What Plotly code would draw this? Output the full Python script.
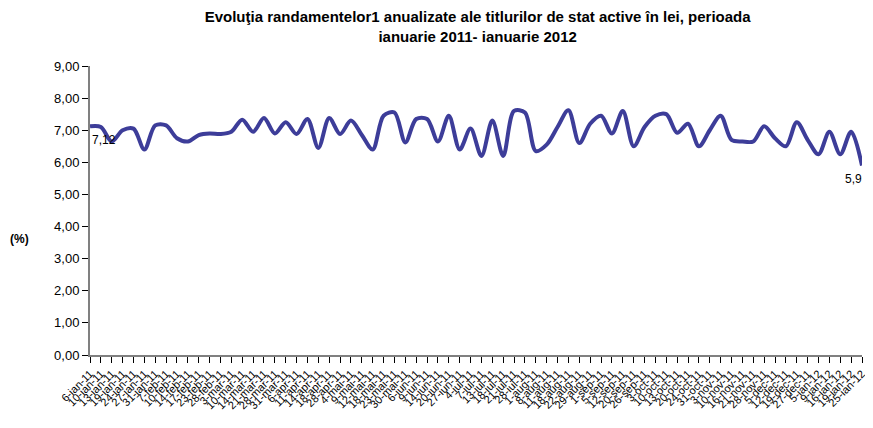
import plotly.graph_objects as go

# date licitatii (categorii)
dates = [
    "6-ian-11", "10-ian-11", "13-ian-11", "19-ian-11", "24-ian-11", "27-ian-11",
    "31-ian-11", "7-feb-11", "10-feb-11", "14-feb-11", "17-feb-11", "23-feb-11",
    "28-feb-11", "3-mar-11", "10-mar-11", "14-mar-11", "21-mar-11", "28-mar-11",
    "31-mar-11", "6-apr-11", "11-apr-11", "14-apr-11", "18-apr-11", "28-apr-11",
    "4-mai-11", "9-mai-11", "12-mai-11", "18-mai-11", "23-mai-11", "30-mai-11",
    "6-iun-11", "9-iun-11", "14-iun-11", "20-iun-11", "27-iun-11", "4-iul-11",
    "7-iul-11", "13-iul-11", "18-iul-11", "21-iul-11", "28-iul-11", "1-aug-11",
    "8-aug-11", "11-aug-11", "18-aug-11", "22-aug-11", "29-aug-11", "1-sep-11",
    "5-sep-11", "12-sep-11", "20-sep-11", "26-sep-11", "3-oct-11", "10-oct-11",
    "13-oct-11", "20-oct-11", "24-oct-11", "31-oct-11", "3-nov-11", "10-nov-11",
    "16-nov-11", "21-nov-11", "28-nov-11", "5-dec-11", "12-dec-11", "19-dec-11",
    "27-dec-11", "5-ian-12", "9-ian-12", "16-ian-12", "19-ian-12", "25-ian-12",
]

# randamente anualizate (%)
randamente = [
    7.12, 7.10, 6.65, 7.00, 7.05, 6.40, 7.15, 7.15, 6.75, 6.65, 6.85, 6.90,
    6.88, 6.95, 7.33, 6.95, 7.38, 6.90, 7.25, 6.88, 7.35, 6.45, 7.38, 6.88,
    7.30, 6.85, 6.40, 7.45, 7.55, 6.62, 7.35, 7.35, 6.65, 7.45, 6.40, 7.05,
    6.20, 7.30, 6.20, 7.60, 7.55, 6.35, 6.55, 7.10, 7.62, 6.60, 7.20, 7.45,
    6.90, 7.60, 6.50, 7.10, 7.45, 7.50, 6.92, 7.20, 6.50, 7.00, 7.45, 6.70,
    6.65, 6.65, 7.12, 6.75, 6.50, 7.25, 6.70, 6.25, 6.95, 6.25, 6.95, 5.90,
]

y_ticks = [0, 1, 2, 3, 4, 5, 6, 7, 8, 9]

fig = go.Figure(
    go.Scatter(
        x=dates,
        y=randamente,
        mode="lines",
        line={"color": "#3d3d99", "width": 4, "shape": "spline", "smoothing": 0.9},
        cliponaxis=False,
        showlegend=False,
    )
)

# etichete de date pentru primul si ultimul punct
first_label = {
    "x": dates[0], "y": randamente[0], "text": "7,12",
    "xanchor": "left", "yanchor": "middle", "yshift": -14,
}
last_label = {
    "x": dates[-1], "y": randamente[-1], "text": "5,9",
    "xanchor": "right", "yanchor": "middle", "xshift": 2, "yshift": -13,
}
for lab in (first_label, last_label):
    fig.add_annotation(showarrow=False, font={"size": 12}, **lab)

fig.add_annotation(
    text="<b>(%)</b>",
    xref="paper",
    yref="paper",
    x=-0.106,
    y=0.4,
    showarrow=False,
    font={"size": 12},
)

# la pagina are o margine de 8px, figura trebuie sa incapa fara scroll
fig.update_layout(
    width=857,
    height=412,
    paper_bgcolor="white",
    plot_bgcolor="white",
    separators=",.",
    font={"family": "Arial, Liberation Sans, sans-serif", "color": "#000000"},
    margin={"t": 58, "b": 65, "l": 82, "r": 3, "autoexpand": False},
    title={
        "text": "<b>Evoluţia randamentelor1 anualizate ale titlurilor de stat active în lei, perioada"
        "<br>ianuarie 2011- ianuarie 2012</b>",
        "x": 0.548,
        "xanchor": "center",
        "y": 0.966,
        "yanchor": "top",
        "font": {"size": 15},
    },
    xaxis={
        "type": "category",
        "automargin": False,
        "tickmode": "array",
        "tickvals": dates,
        "ticktext": dates,
        "tickangle": -45,
        "tickfont": {"size": 11},
        "ticks": "outside",
        "ticklen": 6,
        "tickcolor": "#000000",
        "showline": True,
        "linecolor": "#808080",
        "linewidth": 2,
        "showgrid": False,
        "range": [0, len(dates) - 1],
    },
    yaxis={
        "automargin": False,
        "range": [0, 9],
        "tickvals": y_ticks,
        "tickformat": ".2f",
        "tickfont": {"size": 13},
        "ticks": "outside",
        "ticklen": 6,
        "tickcolor": "#000000",
        "showline": True,
        "linecolor": "#808080",
        "linewidth": 2,
        "showgrid": False,
        "zeroline": False,
    },
)

fig.write_html("out.html")
